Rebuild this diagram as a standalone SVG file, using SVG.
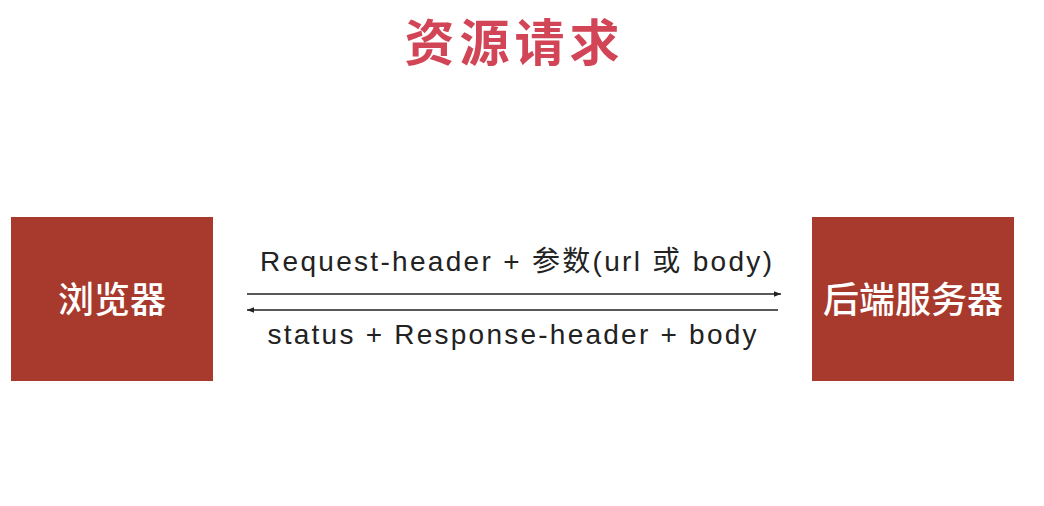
<svg xmlns="http://www.w3.org/2000/svg" width="1044" height="506" viewBox="0 0 1044 506">
<style>
.title{font-family:"Noto Sans CJK SC","Liberation Sans",sans-serif;font-size:50px;font-weight:bold;fill:#d14556;text-anchor:middle}
.box{fill:#a83a2d}
.boxt{font-family:"Noto Sans CJK SC","Liberation Sans",sans-serif;font-size:36px;font-weight:500;fill:#ffffff;text-anchor:middle}
.lbl{font-family:"Liberation Sans","Noto Sans CJK SC",sans-serif;font-size:28px;fill:#222222;text-anchor:middle}
.ln{stroke:#222222;stroke-width:1.3;fill:none}
</style>
<defs>
<marker id="ah" viewBox="0 0 10 10" refX="10" refY="5" markerWidth="7" markerHeight="7" orient="auto-start-reverse" markerUnits="userSpaceOnUse">
<path d="M0,1 L10,5 L0,9 z" fill="#222222"/>
</marker>
</defs>
<rect width="1044" height="506" fill="#ffffff"/>
<text class="title" x="512" y="61" textLength="215" lengthAdjust="spacing">资源请求</text>
<g id="browser">
<rect class="box" x="11" y="217" width="202" height="164"/>
<text class="boxt" x="112" y="313">浏览器</text>
</g>
<g id="server">
<rect class="box" x="812" y="217" width="202" height="164"/>
<text class="boxt" x="913" y="313">后端服务器</text>
</g>
<g id="connectors">
<line class="ln" x1="247" y1="294" x2="781" y2="294" marker-end="url(#ah)"/>
<line class="ln" x1="247" y1="310" x2="778" y2="310" marker-start="url(#ah)"/>
<text class="lbl" x="516" y="271" textLength="512" lengthAdjust="spacing">Request-header + 参数(url 或 body)</text>
<text class="lbl" x="512" y="344" textLength="489" lengthAdjust="spacing">status + Response-header + body</text>
</g>
</svg>
